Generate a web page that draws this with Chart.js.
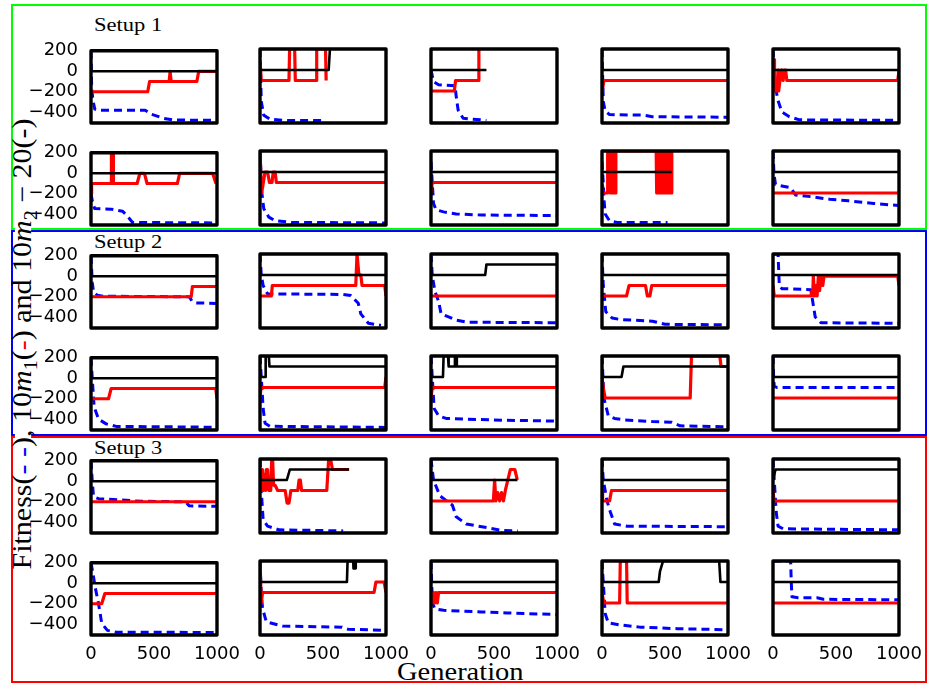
<!DOCTYPE html>
<html>
<head>
<meta charset="utf-8">
<script src="https://cdn.jsdelivr.net/npm/chart.js@4/dist/chart.umd.min.js"></script>
<style>
  body { margin: 0; background: #fff; }
  #fig { position: relative; width: 930px; height: 687px; overflow: hidden; background: #fff; }
  #fig canvas { position: absolute; }
  .frame { position: absolute; box-sizing: border-box; border: 2px solid; }
  .txt { position: absolute; font-family: "Liberation Serif", serif; color: #000; white-space: nowrap; line-height: 1; transform-origin: 0 0; }
  #ylab { position: absolute; left: 23px; top: 344px; font-family: "Liberation Serif", serif; font-size: 30px; line-height: 0.5;
          white-space: nowrap; background: #fff; padding: 0 2px; transform: translate(-50%, -50%) rotate(-90deg) scaleY(0.9); }
  #ylab sub { font-size: 20px; line-height: 0; }
</style>
</head>
<body>
<div id="fig">
  <div class="frame" style="left:11px;top:4px;width:916px;height:226px;border-color:#00ff00"></div>
  <div class="frame" style="left:11px;top:230px;width:916px;height:206px;border-color:#0000ff"></div>
  <div class="frame" style="left:11px;top:436px;width:916px;height:247px;border-color:#ff0000"></div>
  <div class="txt" style="left:94px;top:16px;font-size:18px;transform:scaleX(1.25)">Setup 1</div>
  <div class="txt" style="left:94px;top:233px;font-size:18px;transform:scaleX(1.25)">Setup 2</div>
  <div class="txt" style="left:94px;top:439px;font-size:18px;transform:scaleX(1.25)">Setup 3</div>
  <div class="txt" style="left:397px;top:659px;font-size:25px;transform:scaleX(1.14)">Generation</div>
  <div id="ylab">Fitness(<span style="color:#0000ff">- -</span>), 10<i>m</i><sub>1</sub>(<span style="color:#ff0000">-</span>) and 10<i>m</i><sub>2</sub> − 20(-)</div>
</div>
<script>
// axis ticks shared by all panels
const xTicks = [0, 500, 1000];
const yTicks = [-400, -200, 0, 200];

// each panel: fitness (blue dashed), 10*m1 (red), 10*m2-20 (black); points are [generation, value]
// Setup 1
const r1c1_fit = [[0,200],[5,-150],[15,-280],[30,-370],[60,-380],[430,-380],[480,-420],[580,-460],[650,-475],[1000,-480]];
const r1c1_m1 = [[0,-200],[450,-200],[465,-100],[620,-100],[628,0],[636,-100],[840,-100],[855,0],[1000,0]];
const r1c1_m2 = [[0,0],[1000,0]];

const r1c2_fit = [[0,200],[10,-300],[30,-430],[80,-470],[200,-480],[520,-480]];
const r1c2_m1 = [[0,100],[10,-100],[230,-100],[235,200],[275,200],[280,-100],[445,-100],[450,200],[520,200],[525,-100],[530,-100]];
const r1c2_m2 = [[0,0],[545,0],[555,200]];

const r1c3_fit = [[0,0],[20,-110],[60,-140],[190,-150],[200,-250],[215,-380],[255,-460],[440,-480]];
const r1c3_m1 = [[0,-200],[185,-200],[195,-100],[375,-100],[380,200]];
const r1c3_m2 = [[0,0],[440,0]];

const r1c4_fit = [[0,200],[10,-300],[25,-390],[60,-425],[330,-430],[400,-445],[1000,-450]];
const r1c4_m1 = [[0,-220],[15,-100],[1000,-100]];
const r1c4_m2 = [[0,0],[1000,0]];

const r1c5_fit = [[0,200],[10,0],[25,-200],[40,-290],[70,-400],[130,-445],[210,-475],[1000,-480]];
const r1c5_m1 = [[0,-100],[5,-200],[8,100],[12,-200],[20,-200],[25,-100],[35,-200],[40,0],[45,-200],[55,-100],[70,0],[80,-100],[90,0],[100,0],[110,-100],[990,-100],[1000,-10]];
const r1c5_m2 = [[0,0],[1000,0]];

const r2c1_fit = [[0,-200],[15,-300],[30,-345],[160,-350],[250,-370],[290,-420],[330,-480],[1000,-485]];
const r2c1_m1 = [[0,-200],[5,-100],[160,-100],[162,200],[176,200],[178,-100],[366,-100],[388,0],[424,0],[445,-100],[685,-100],[704,0],[965,0],[992,-100]];
const r2c1_m2 = [[0,0],[1000,0]];

const r2c2_fit = [[0,200],[15,-200],[30,-350],[70,-430],[120,-465],[250,-480],[1000,-485]];
const r2c2_m1 = [[0,200],[12,-200],[20,-150],[40,0],[60,0],[75,-100],[95,-100],[105,0],[120,0],[130,-100],[1000,-100]];
const r2c2_m2 = [[0,0],[1000,0]];

const r2c3_fit = [[0,100],[10,-100],[20,-300],[40,-360],[100,-380],[200,-400],[400,-410],[1000,-415]];
const r2c3_m1 = [[0,-200],[10,-100],[1000,-100]];
const r2c3_m2 = [[0,0],[1000,0]];

const r2c4_fit = [[0,100],[10,-100],[15,-250],[25,-400],[60,-465],[120,-480],[520,-480]];
const r2c4_m1 = [[0,-130],[5,-200],[43,-200],[45,200],[65,200],[67,-200],[89,-200],[91,200],[107,200],[109,-200],[111,200],[430,200],
  [434,-200],[438,200],[442,-200],[446,200],[450,-200],[454,200],[458,-200],[462,200],[466,-200],[470,200],[474,-200],[478,200],
  [482,-200],[486,200],[490,-200],[494,200],[498,-200],[502,200],[506,-200],[510,200],[514,-200],[518,200],[522,-200],[526,200],
  [530,-200],[534,200],[538,-200],[542,200],[546,-200],[550,200],[554,-200]];
const r2c4_m2 = [[0,0],[554,0]];

const r2c5_fit = [[0,200],[8,-20],[20,-120],[80,-135],[140,-150],[180,-220],[300,-235],[450,-260],[600,-275],[800,-300],[1000,-320]];
const r2c5_m1 = [[0,-200],[1000,-200]];
const r2c5_m2 = [[0,0],[1000,0]];

// Setup 2
const r3c1_fit = [[0,200],[10,-60],[20,-150],[50,-185],[100,-195],[780,-200],[800,-240],[830,-260],[1000,-265]];
const r3c1_m1 = [[0,-200],[795,-200],[805,-100],[1000,-100]];
const r3c1_m2 = [[0,0],[1000,0]];

const r3c2_fit = [[0,200],[10,0],[25,-100],[60,-180],[660,-185],[720,-195],[780,-270],[800,-370],[860,-460],[960,-480]];
const r3c2_m1 = [[0,-200],[90,-200],[98,-100],[760,-100],[770,200],[785,0],[800,0],[810,-100],[990,-100],[1000,-200]];
const r3c2_m2 = [[0,0],[1000,0]];

const r3c3_fit = [[0,200],[10,0],[30,-150],[60,-250],[80,-370],[120,-390],[200,-430],[290,-450],[1000,-455]];
const r3c3_m1 = [[0,-200],[1000,-200]];
const r3c3_m2 = [[0,0],[430,0],[440,100],[1000,100]];

const r3c4_fit = [[0,200],[10,-100],[30,-350],[80,-410],[150,-425],[400,-440],[500,-470],[1000,-475]];
const r3c4_m1 = [[0,-200],[195,-200],[215,-100],[345,-100],[360,-200],[380,-200],[395,-100],[1000,-100]];
const r3c4_m2 = [[0,0],[1000,0]];

const r3c5_fit = [[0,200],[40,200],[50,-100],[70,-130],[300,-140],[315,-250],[335,-400],[380,-455],[1000,-460]];
const r3c5_m1 = [[0,-100],[10,-200],[300,-200],[310,-150],[315,-200],[320,-10],[330,-200],[340,-100],[350,-200],[360,-10],[370,-150],[380,-10],[395,-100],[405,-10],[990,-10],[1000,-100]];
const r3c5_m2 = [[0,0],[1000,0]];

const r4c1_fit = [[0,200],[10,0],[25,-280],[60,-400],[120,-445],[200,-470],[1000,-478]];
const r4c1_m1 = [[0,-200],[139,-200],[160,-100],[990,-100],[1000,-200]];
const r4c1_m2 = [[0,0],[1000,0]];

const r4c2_fit = [[0,200],[10,0],[25,-300],[40,-440],[80,-470],[1000,-480]];
const r4c2_m1 = [[0,-200],[8,-100],[990,-100],[1000,0]];
const r4c2_m2 = [[0,0],[40,0],[45,200],[70,200],[75,100],[1000,100]];

const r4c3_fit = [[0,200],[10,0],[25,-300],[60,-370],[120,-395],[500,-410],[1000,-420]];
const r4c3_m1 = [[0,-200],[10,-100],[1000,-100]];
const r4c3_m2 = [[0,0],[95,0],[100,200],[135,200],[140,100],[185,100],[190,200],[200,200],[205,100],[1000,100]];

const r4c4_fit = [[0,200],[15,-200],[50,-370],[100,-395],[180,-410],[400,-425],[550,-430],[620,-465],[1000,-475]];
const r4c4_m1 = [[0,0],[10,-100],[25,-200],[700,-200],[710,200],[935,200],[945,100],[1000,100]];
const r4c4_m2 = [[0,0],[155,0],[170,100],[1000,100]];

const r4c5_fit = [[0,200],[5,0],[10,-90],[30,-100],[1000,-100]];
const r4c5_m1 = [[0,-200],[1000,-200]];
const r4c5_m2 = [[0,0],[1000,0]];

// Setup 3
const r5c1_fit = [[0,200],[10,0],[20,-150],[60,-170],[400,-195],[750,-200],[780,-240],[1000,-245]];
const r5c1_m1 = [[0,-200],[1000,-200]];
const r5c1_m2 = [[0,0],[1000,0]];

const r5c2_fit = [[0,200],[10,-100],[25,-380],[60,-440],[100,-455],[150,-475],[660,-485]];
const r5c2_m1 = [[0,-100],[15,-100],[20,100],[30,-100],[35,50],[45,-100],[50,100],[60,100],[70,-100],[85,-100],[93,200],[100,200],[108,-50],[120,-50],
  [140,-100],[200,-100],[215,-220],[230,-220],[245,-100],[300,-100],[310,0],[320,0],[330,-100],[530,-100],[545,200],[560,200],[575,100],[707,100]];
const r5c2_m2 = [[0,0],[213,0],[237,100],[707,100]];

const r5c3_fit = [[0,200],[10,100],[20,0],[70,-150],[170,-240],[200,-350],[280,-420],[450,-455],[560,-480],[690,-485]];
const r5c3_m1 = [[0,-200],[495,-200],[505,0],[515,-200],[530,-120],[545,-200],[560,-120],[575,-200],[590,-100],[610,0],[630,100],[665,100],[685,0]];
const r5c3_m2 = [[0,0],[686,0]];

const r5c4_fit = [[0,200],[10,0],[40,-200],[65,-300],[100,-420],[200,-440],[1000,-445]];
const r5c4_m1 = [[0,-100],[5,-200],[60,-200],[75,-100],[1000,-100]];
const r5c4_m2 = [[0,0],[1000,0]];

const r5c5_fit = [[0,200],[10,0],[25,-300],[40,-440],[80,-465],[1000,-475]];
const r5c5_m1 = [[0,-100],[8,-200],[1000,-200]];
const r5c5_m2 = [[0,0],[10,50],[20,100],[1000,100]];

const r6c1_fit = [[0,200],[15,100],[35,-50],[60,-200],[85,-390],[130,-460],[200,-478],[1000,-480]];
const r6c1_m1 = [[0,-200],[85,-200],[110,-100],[1000,-100]];
const r6c1_m2 = [[0,0],[1000,0]];

const r6c2_fit = [[0,200],[10,-100],[20,-250],[50,-380],[180,-420],[650,-430],[700,-450],[1000,-460]];
const r6c2_m1 = [[0,200],[10,-200],[20,-100],[905,-100],[920,0],[985,0],[1000,-100]];
const r6c2_m2 = [[0,0],[690,0],[695,200],[740,200],[742,130],[755,130],[760,200],[1000,200]];

const r6c3_fit = [[0,200],[5,0],[12,-200],[30,-255],[100,-270],[400,-285],[600,-295],[1000,-310]];
const r6c3_m1 = [[0,-100],[10,-200],[20,-100],[30,-200],[40,-100],[50,-200],[60,-100],[1000,-100]];
const r6c3_m2 = [[0,0],[1000,0]];

const r6c4_fit = [[0,200],[10,0],[25,-300],[50,-390],[150,-410],[300,-430],[600,-445],[1000,-455]];
const r6c4_m1 = [[0,-100],[15,-200],[140,-200],[145,200],[195,200],[200,-200],[1000,-200]];
const r6c4_m2 = [[0,0],[450,0],[460,100],[485,200],[930,200],[940,0],[1000,0]];

const r6c5_fit = [[0,200],[140,200],[145,0],[150,-140],[200,-150],[350,-150],[400,-165],[1000,-170]];
const r6c5_m1 = [[0,-200],[1000,-200]];
const r6c5_m2 = [[0,0],[1000,0]];

const panels = [
  [r1c1_fit, r1c1_m1, r1c1_m2], [r1c2_fit, r1c2_m1, r1c2_m2], [r1c3_fit, r1c3_m1, r1c3_m2], [r1c4_fit, r1c4_m1, r1c4_m2], [r1c5_fit, r1c5_m1, r1c5_m2],
  [r2c1_fit, r2c1_m1, r2c1_m2], [r2c2_fit, r2c2_m1, r2c2_m2], [r2c3_fit, r2c3_m1, r2c3_m2], [r2c4_fit, r2c4_m1, r2c4_m2], [r2c5_fit, r2c5_m1, r2c5_m2],
  [r3c1_fit, r3c1_m1, r3c1_m2], [r3c2_fit, r3c2_m1, r3c2_m2], [r3c3_fit, r3c3_m1, r3c3_m2], [r3c4_fit, r3c4_m1, r3c4_m2], [r3c5_fit, r3c5_m1, r3c5_m2],
  [r4c1_fit, r4c1_m1, r4c1_m2], [r4c2_fit, r4c2_m1, r4c2_m2], [r4c3_fit, r4c3_m1, r4c3_m2], [r4c4_fit, r4c4_m1, r4c4_m2], [r4c5_fit, r4c5_m1, r4c5_m2],
  [r5c1_fit, r5c1_m1, r5c1_m2], [r5c2_fit, r5c2_m1, r5c2_m2], [r5c3_fit, r5c3_m1, r5c3_m2], [r5c4_fit, r5c4_m1, r5c4_m2], [r5c5_fit, r5c5_m1, r5c5_m2],
  [r6c1_fit, r6c1_m1, r6c1_m2], [r6c2_fit, r6c2_m1, r6c2_m2], [r6c3_fit, r6c3_m1, r6c3_m2], [r6c4_fit, r6c4_m1, r6c4_m2], [r6c5_fit, r6c5_m1, r6c5_m2],
];

// layout of the 6x5 grid (plot box corners in page pixels)
const colLeft = [91, 260, 431, 602, 773];
const rowTop = [49, 151, 254, 356, 459, 561];
const PW = 126, PH = 74;
const PAD_L = 85, PAD_R = 34, PAD_T = 14, PAD_B = 32;

// thick black box around each axes
const boxFrame = {
  id: 'boxFrame',
  afterDatasetsDraw(chart) {
    const { ctx, chartArea: a } = chart;
    ctx.save();
    ctx.lineWidth = 3.4;
    ctx.strokeStyle = '#000';
    ctx.lineJoin = 'round';
    ctx.strokeRect(a.left, a.top, a.right - a.left, a.bottom - a.top);
    ctx.restore();
  }
};

const toXY = arr => arr.map(p => ({ x: p[0], y: p[1] }));
const tickFont = { family: 'DejaVu Sans', size: 18 };

function renderPanel(idx) {
  const r = Math.floor(idx / 5), c = idx % 5;
  const [fit, m1, m2] = panels[idx];
  const cv = document.createElement('canvas');
  cv.width = PAD_L + PW + PAD_R;
  cv.height = PAD_T + PH + PAD_B;
  cv.style.left = (colLeft[c] - PAD_L) + 'px';
  cv.style.top = (rowTop[r] - PAD_T) + 'px';
  document.getElementById('fig').appendChild(cv);

  new Chart(cv, {
    type: 'line',
    data: {
      datasets: [
        { data: toXY(m2), borderColor: '#000000', borderWidth: 2.6, order: 0 },
        { data: toXY(m1), borderColor: '#ff0000', borderWidth: 3.2, order: 1 },
        { data: toXY(fit), borderColor: '#0000ff', borderWidth: 3, borderDash: [8, 5], order: 2 }
      ]
    },
    options: {
      responsive: false,
      animation: false,
      devicePixelRatio: 1,
      elements: {
        point: { radius: 0 },
        line: { tension: 0, borderJoinStyle: 'round', borderCapStyle: 'butt' }
      },
      layout: { padding: { left: 0, right: PAD_R, top: PAD_T, bottom: 0 } },
      plugins: { legend: { display: false }, tooltip: { enabled: false } },
      scales: {
        x: {
          type: 'linear', min: 0, max: 1000,
          grid: { display: false }, border: { display: false },
          afterBuildTicks: s => { s.ticks = xTicks.map(v => ({ value: v })); },
          afterFit: s => { s.height = PAD_B; },
          ticks: { display: r === 5, font: tickFont, color: '#000', padding: 1, maxRotation: 0, autoSkip: false,
                   callback: v => String(v) }
        },
        y: {
          type: 'linear', min: -505, max: 200,
          grid: { display: false }, border: { display: false },
          afterBuildTicks: s => { s.ticks = yTicks.map(v => ({ value: v })); },
          afterFit: s => { s.width = PAD_L; },
          ticks: { display: c === 0, font: tickFont, color: '#000', padding: 5, autoSkip: false,
                   callback: v => String(v).replace('-', '\u2212') }
        }
      }
    },
    plugins: [boxFrame]
  });
}

for (let i = 0; i < panels.length; i++) renderPanel(i);
</script>
</body>
</html>
